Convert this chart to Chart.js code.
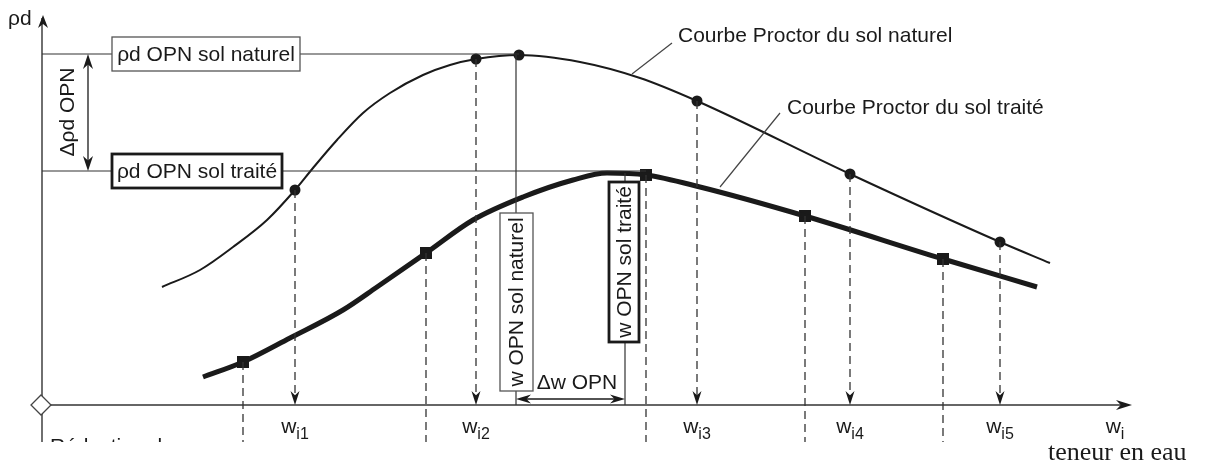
<!DOCTYPE html>
<html><head><meta charset="utf-8">
<script src="https://cdn.jsdelivr.net/npm/chart.js@4/dist/chart.umd.min.js"></script>
<style>html,body{margin:0;padding:0;background:#fff;overflow:hidden}#wrap{width:1207px;height:465px}</style>
</head><body><div id="wrap"><canvas id="c" width="1207" height="465"></canvas></div>
<script>
// Schematic units: x = teneur en eau w, y = masse volumique sèche ρd (arbitrary units)
const naturalX = [12.0,15.8,19.1,22.5,25.3,27.1,29.5,32.1,34.8,38.1,40.8,43.4,47.7,53.8,59.8,65.5,80.8,95.8,100.8];
const naturalY = [11.8,13.5,15.8,18.5,21.5,23.7,26.5,29.2,31.2,33.0,34.0,34.6,35.0,34.3,32.7,30.4,23.1,16.3,14.2];
const treatedX = [16.1,20.1,24.8,30.1,33.5,38.4,43.1,48.1,53.1,56.5,60.4,65.8,76.3,90.1,99.5];
const treatedY = [2.8,4.3,6.7,9.5,11.8,15.2,18.5,20.8,22.5,23.2,23.0,21.8,18.9,14.6,11.8];
const naturalTestX = [25.3,43.4,65.5,80.8,95.8];
const naturalTestY = [21.5,34.6,30.4,23.1,16.3];
const naturalOptX = 47.7, naturalOptY = 35.0;
const treatedTestX = [20.1,38.4,60.4,76.3,90.1];
const treatedTestY = [4.3,15.2,23.0,18.9,14.6];
const wTickLabels = ['i1','i2','i3','i4','i5'];
const wOpnNatural = 47.4, wOpnTreated = 58.3;
const rhoOpnNatural = 35.1, rhoOpnTreated = 23.4;
const xAxisEnd = 109.0, yAxisTop = 39.0, figBottom = -3.7;

const INK = '#1a1a1a';
const pts = (xs, ys) => xs.map((x, i) => ({x, y: ys[i]}));
const seg = (x1, y1, x2, y2, extra) => Object.assign({
  data: [{x: x1, y: y1}, {x: x2, y: y2}], borderColor: INK, borderWidth: 1.3,
  pointRadius: 0, tension: 0, fill: false
}, extra || {});

const datasets = [];
// axes
datasets.push(seg(0, figBottom, 0, yAxisTop - 0.3, {borderWidth: 1.4, borderColor: '#333'}));
datasets.push(seg(0, 0, xAxisEnd - 0.5, 0, {borderWidth: 1.4, borderColor: '#333'}));
// optimum reference lines
datasets.push(seg(0, rhoOpnNatural, naturalOptX, rhoOpnNatural, {borderWidth: 1.2, borderColor: '#333'}));
datasets.push(seg(0, rhoOpnTreated, treatedX[10], rhoOpnTreated, {borderWidth: 1.2, borderColor: '#333'}));
datasets.push(seg(wOpnNatural, naturalOptY, wOpnNatural, 0, {borderWidth: 1.2, borderColor: '#333'}));
datasets.push(seg(wOpnTreated, treatedY[9], wOpnTreated, 0, {borderWidth: 1.2, borderColor: '#333'}));
// dashed verticals
naturalTestX.forEach((x, i) => datasets.push(seg(x, naturalTestY[i], x, 0.3, {borderDash: [8, 5], borderWidth: 1.3, borderColor: '#333'})));
treatedTestX.forEach((x, i) => datasets.push(seg(x, treatedTestY[i], x, figBottom, {borderDash: [8, 5], borderWidth: 1.3, borderColor: '#333'})));
// leader lines
datasets.push(seg(63.0, 36.2, 59.0, 33.1, {borderWidth: 1.2, borderColor: '#444'}));
datasets.push(seg(73.8, 29.2, 67.8, 21.8, {borderWidth: 1.2, borderColor: '#444'}));
// curves
datasets.push({data: pts(naturalX, naturalY), borderColor: INK, borderWidth: 2, pointRadius: 0, cubicInterpolationMode: 'monotone', fill: false});
datasets.push({data: pts(treatedX, treatedY), borderColor: INK, borderWidth: 5, pointRadius: 0, cubicInterpolationMode: 'monotone', fill: false, borderCapStyle: 'butt'});
// markers
datasets.push({data: pts(naturalTestX.concat([naturalOptX]), naturalTestY.concat([naturalOptY])), showLine: false, pointStyle: 'circle', pointRadius: 5.5, backgroundColor: INK, borderColor: INK, borderWidth: 0});
datasets.push({data: pts(treatedTestX, treatedTestY), showLine: false, pointStyle: 'rect', pointRadius: 8.5, backgroundColor: INK, borderColor: INK, borderWidth: 0});

function arrow(ctx, x, y, ang, len, hw) {
  ctx.save(); ctx.translate(x, y); ctx.rotate(ang);
  ctx.beginPath(); ctx.moveTo(0, 0); ctx.lineTo(-len, -hw); ctx.lineTo(-len * 0.7, 0); ctx.lineTo(-len, hw); ctx.closePath();
  ctx.fillStyle = INK; ctx.fill(); ctx.restore();
}
function box(ctx, cx, cy, w, h, lw, color) {
  ctx.save(); ctx.fillStyle = '#fff'; ctx.fillRect(cx - w / 2, cy - h / 2, w, h);
  ctx.lineWidth = lw; ctx.strokeStyle = color; ctx.strokeRect(cx - w / 2, cy - h / 2, w, h); ctx.restore();
}
const SANS = '"Liberation Sans", Arial, Helvetica, sans-serif';
const FS = 21;

const annot = {
  id: 'annot',
  afterDatasetsDraw(chart) {
    const ctx = chart.ctx, X = v => chart.scales.x.getPixelForValue(v), Y = v => chart.scales.y.getPixelForValue(v);
    ctx.save();
    // axis arrows
    arrow(ctx, X(0) + 1, Y(yAxisTop), -Math.PI / 2, 13, 5);
    arrow(ctx, X(xAxisEnd), Y(0), 0, 16, 5);
    // w arrows
    naturalTestX.forEach(x => arrow(ctx, X(x), Y(0), Math.PI / 2, 14, 4.5));
    // Δρd double arrow
    const ax = X(4.6);
    ctx.strokeStyle = INK; ctx.lineWidth = 1.3;
    ctx.beginPath(); ctx.moveTo(ax, Y(rhoOpnNatural) + 4); ctx.lineTo(ax, Y(rhoOpnTreated) - 4); ctx.stroke();
    arrow(ctx, ax, Y(rhoOpnNatural), -Math.PI / 2, 15, 5);
    arrow(ctx, ax, Y(rhoOpnTreated), Math.PI / 2, 15, 5);
    // Δw double arrow
    const ay = Y(0.6);
    ctx.beginPath(); ctx.moveTo(X(wOpnNatural) + 4, ay); ctx.lineTo(X(wOpnTreated) - 4, ay); ctx.stroke();
    arrow(ctx, X(wOpnNatural), ay, Math.PI, 15, 4.5);
    arrow(ctx, X(wOpnTreated), ay, 0, 15, 4.5);
    // origin diamond
    const ox = X(0) - 1, oy = Y(0);
    ctx.beginPath(); ctx.moveTo(ox, oy - 10); ctx.lineTo(ox + 10, oy); ctx.lineTo(ox, oy + 10); ctx.lineTo(ox - 10, oy); ctx.closePath();
    ctx.fillStyle = '#fff'; ctx.fill(); ctx.strokeStyle = '#444'; ctx.lineWidth = 1.3; ctx.stroke();

    ctx.fillStyle = INK; ctx.font = FS + 'px ' + SANS; ctx.textBaseline = 'middle'; ctx.textAlign = 'center';
    // horizontal boxes
    box(ctx, X(16.4), Y(rhoOpnNatural), 188, 34, 1.3, '#555');
    ctx.fillStyle = INK; ctx.fillText('ρd OPN sol naturel', X(16.4), Y(rhoOpnNatural) + 1);
    box(ctx, X(15.5), Y(rhoOpnTreated), 170, 34, 2.8, INK);
    ctx.fillStyle = INK; ctx.fillText('ρd OPN sol traité', X(15.5), Y(rhoOpnTreated) + 1);
    // vertical boxes
    const vbox = (cx, yTop, yBot, w, lw, col, txt) => {
      const t = Y(yTop), b = Y(yBot), cy = (t + b) / 2;
      box(ctx, cx, cy, w, b - t, lw, col);
      ctx.save(); ctx.translate(cx + 1, cy); ctx.rotate(-Math.PI / 2); ctx.fillStyle = INK; ctx.fillText(txt, 0, 0); ctx.restore();
    };
    vbox(X(wOpnNatural) + 0.5, 19.2, 1.4, 33, 1.3, '#555', 'w OPN sol naturel');
    vbox(X(wOpnTreated) - 1, 22.3, 6.3, 30, 2.8, INK, 'w OPN sol traité');
    // Δρd OPN
    ctx.save(); ctx.translate(X(2.6), Y(29.3)); ctx.rotate(-Math.PI / 2); ctx.fillText('Δρd OPN', 0, 0); ctx.restore();
    ctx.fillText('Δw OPN', X(53.5), Y(2.2));
    // curve labels
    ctx.textAlign = 'left';
    ctx.fillText('Courbe Proctor du sol naturel', X(63.6), Y(36.9));
    ctx.fillText('Courbe Proctor du sol traité', X(74.5), Y(29.7));
    ctx.fillText('ρd', X(-3.4), Y(38.6));
    // w labels
    const wLabel = (cx, sub) => {
      ctx.font = FS + 'px ' + SANS; const ww = ctx.measureText('w').width;
      ctx.font = '16px ' + SANS; const sw = ctx.measureText(sub).width;
      const left = cx - (ww + sw) / 2;
      ctx.textAlign = 'left';
      ctx.font = FS + 'px ' + SANS; ctx.fillText('w', left, Y(-2.2));
      ctx.font = '16px ' + SANS; ctx.fillText(sub, left + ww, Y(-3.0));
    };
    naturalTestX.forEach((x, i) => wLabel(X(x), wTickLabels[i]));
    wLabel(X(107.3), 'i');
    // teneur en eau
    ctx.font = '26px "Liberation Serif", "Times New Roman", serif'; ctx.textBaseline = 'alphabetic'; ctx.textAlign = 'left';
    ctx.fillText('teneur en eau', X(100.6), Y(-5.45));
    // clipped caption
    ctx.save(); ctx.beginPath(); ctx.rect(0, 0, chart.width, Y(figBottom)); ctx.clip();
    ctx.font = FS + 'px ' + SANS; ctx.textBaseline = 'top'; ctx.fillText('Réduction de', X(0.8), Y(-3.2));
    ctx.restore();
    ctx.restore();
  }
};

new Chart(document.getElementById('c'), {
  type: 'line',
  data: {datasets},
  options: {
    responsive: false, animation: false, devicePixelRatio: 1, events: [],
    layout: {padding: 0, autoPadding: false},
    plugins: {legend: {display: false}, tooltip: {enabled: false}},
    scales: {
      x: {type: 'linear', display: false, min: -4.2, max: 116.5},
      y: {type: 'linear', display: false, min: -6.0, max: 40.5}
    }
  },
  plugins: [annot]
});
</script></body></html>
